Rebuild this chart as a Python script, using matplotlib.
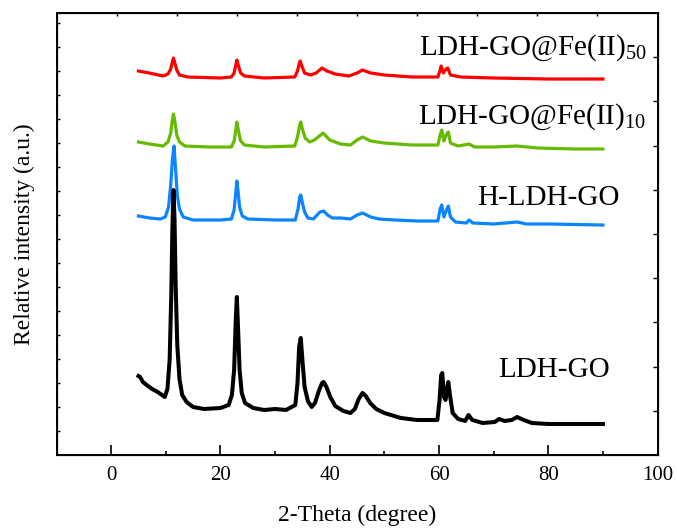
import numpy as np
import matplotlib
matplotlib.use('Agg')
import matplotlib.pyplot as plt

plt.rcParams['font.family'] = ['Liberation Serif', 'DejaVu Serif']
plt.rcParams['mathtext.default'] = 'regular'

# --- data (2-theta in degree, intensity in a.u., curves already offset) ---
x_ldh = [5.0, 5.3, 5.8, 6.5, 7.5, 8.5, 9.3, 9.8, 10.3, 10.7, 11.0, 11.2, 11.4, 11.6, 11.8,
         12.1, 12.5, 13.0, 13.8, 15.0, 17.0, 20.0, 21.5, 22.1, 22.5, 22.8, 23.0, 23.2, 23.5,
         23.9, 24.5, 26.0, 28.0, 30.0, 32.0, 33.7, 34.1, 34.4, 34.7, 35.0, 35.4, 36.0, 36.7,
         37.3, 38.0, 38.6, 38.9, 39.4, 40.1, 41.0, 42.5, 43.8, 44.6, 45.3, 46.0, 46.6, 47.4,
         48.5, 50.0, 53.0, 56.0, 59.7, 60.1, 60.4, 60.6, 60.9, 61.2, 61.5, 61.7, 62.0, 62.5,
         63.5, 64.8, 65.4, 66.1, 68.0, 70.2, 71.0, 72.0, 73.3, 74.3, 75.5, 77.0, 80.0, 85.0, 90.0]
y_ldh = [79, 78, 73, 70, 66, 63, 60, 58, 66, 95, 160, 225, 265, 235, 170,
         110, 76, 60, 53, 48, 46, 47, 50, 60, 85, 135, 158, 130, 85,
         62, 52, 47, 45, 46, 45, 50, 72, 108, 117, 95, 68, 54, 48,
         52, 64, 72, 73, 68, 58, 49, 44, 42, 46, 56, 62, 59, 52,
         46, 42, 37, 35, 35, 55, 80, 82, 58, 55, 68, 73, 60, 42,
         36, 34, 40, 35, 32, 33, 36, 34, 35, 38, 35, 32, 31, 31, 31]

x_hldh = [5.0, 7.0, 9.0, 9.9, 10.5, 10.9, 11.2, 11.5, 11.8, 12.1, 12.5, 13.2, 15.0, 20.0, 22.0,
          22.5, 22.8, 23.0, 23.2, 23.5, 24.0, 25.0, 30.0, 33.7, 34.2, 34.5, 34.7, 35.0, 35.4,
          36.0, 37.0, 38.2, 38.9, 39.6, 40.5, 42.0, 43.8, 45.0, 46.0, 47.5, 49.0, 52.0, 56.0,
          59.8, 60.2, 60.5, 60.9, 61.3, 61.7, 62.1, 63.0, 65.0, 65.5, 66.2, 70.0, 74.3, 76.0,
          80.0, 90.0]
y_hldh = [239, 237, 236, 238, 248, 270, 295, 309, 285, 260, 246, 238, 235, 235, 236,
          245, 262, 274, 265, 248, 239, 236, 235, 235, 246, 258, 260, 252, 243,
          237, 236, 243, 244, 240, 237, 237, 236, 240, 242, 238, 236, 235, 234,
          234, 246, 250, 238, 244, 249, 238, 233, 232, 235, 232, 231, 233, 231,
          231, 230]

x_fe10 = [5.0, 7.0, 9.5, 10.4, 10.9, 11.2, 11.4, 11.7, 12.0, 12.5, 13.5, 18.0, 22.0, 22.5, 22.8,
          23.0, 23.3, 23.7, 24.4, 28.0, 33.6, 34.1, 34.5, 34.7, 35.0, 35.5, 36.3, 37.2, 38.8,
          40.0, 42.0, 43.8, 45.0, 46.0, 47.5, 50.0, 55.0, 59.8, 60.2, 60.5, 60.9, 61.3, 61.7,
          62.1, 63.5, 65.5, 66.5, 70.0, 74.3, 78.0, 85.0, 90.0]
y_fe10 = [313, 311, 309, 313, 322, 335, 341, 332, 320, 313, 309, 308, 308, 314, 325,
          333, 324, 314, 310, 308, 309, 318, 330, 333, 326, 317, 313, 315, 322,
          315, 311, 310, 315, 318, 314, 312, 310, 310, 320, 325, 314, 320, 323,
          312, 309, 311, 308, 308, 309, 307, 306, 306]

x_fe50 = [5.0, 7.0, 9.5, 10.4, 10.9, 11.2, 11.4, 11.7, 12.0, 12.5, 14.0, 20.0, 22.0, 22.5, 22.8,
          23.0, 23.3, 23.7, 24.4, 28.0, 33.6, 34.1, 34.4, 34.6, 34.9, 35.4, 36.5, 37.5, 38.6,
          39.5, 41.0, 43.5, 45.0, 46.0, 47.5, 50.0, 55.0, 59.8, 60.2, 60.4, 60.8, 61.3, 61.6,
          62.1, 64.0, 70.0, 80.0, 90.0]
y_fe50 = [384, 382, 379, 381, 386, 393, 397, 391, 385, 380, 378, 377, 378, 382, 390,
          395, 389, 382, 379, 377, 378, 384, 391, 394, 389, 382, 380, 382, 387,
          384, 381, 379, 382, 385, 382, 380, 378, 378, 385, 389, 382, 386, 387,
          380, 378, 377, 376, 376]

fig = plt.figure(figsize=(6.77, 5.29), dpi=100)
ax = fig.add_axes([0.0835, 0.1399, 0.8878, 0.8355])

ax.plot(x_fe50, y_fe50, color='#FF0000', lw=2.3, solid_joinstyle='round')
ax.plot(x_fe10, y_fe10, color='#66BB00', lw=2.3, solid_joinstyle='round')
ax.plot(x_hldh, y_hldh, color='#0A84FF', lw=2.3, solid_joinstyle='round')
ax.plot(x_ldh, y_ldh, color='black', lw=2.9, solid_joinstyle='round')

ax.set_xlim(-10, 100)
ax.set_ylim(0, 442)
ax.set_xticks([0, 20, 40, 60, 80, 100])
ax.set_xticks([10, 30, 50, 70, 90], minor=True)
ax.set_yticks([24 * k for k in range(1, 19)])
ax.set_yticklabels([])
ax.tick_params(axis='x', which='major', direction='in', length=7, width=1.2, labelsize=15, pad=8)
ax.tick_params(axis='x', which='minor', direction='in', length=3, width=1.2)
ax.tick_params(axis='y', direction='in', length=2.5, width=1.0)
for s in ax.spines.values():
    s.set_linewidth(1.4)

# top and right axes carry their own tick spacing, no labels
axt = ax.twiny()
axt.set_xlim(-10, 100)
axt.set_xticks([-10 + 11 * k for k in range(1, 10)])
axt.set_xticklabels([])
axt.tick_params(direction='in', length=2, width=1.0)
axr = ax.twinx()
axr.set_ylim(0, 442)
axr.set_yticks([44.2 * k for k in range(1, 10)])
axr.set_yticklabels([])
axr.tick_params(direction='in', length=3.5, width=1.0)

ax.set_xlabel('2-Theta (degree)', fontsize=17, labelpad=14)
ax.set_ylabel('Relative intensity (a.u.)', fontsize=17, labelpad=12)

ax.text(70.8, 85, 'LDH-GO', fontsize=21, va='center', ha='left')
ax.text(67.0, 257, 'H-LDH-GO', fontsize=21, va='center', ha='left')
ax.text(56.1, 338, r'LDH-GO@Fe(II)$_{10}$', fontsize=21, va='center', ha='left')
ax.text(56.4, 407, r'LDH-GO@Fe(II)$_{50}$', fontsize=21, va='center', ha='left')

fig.savefig('out.png', dpi=100)
